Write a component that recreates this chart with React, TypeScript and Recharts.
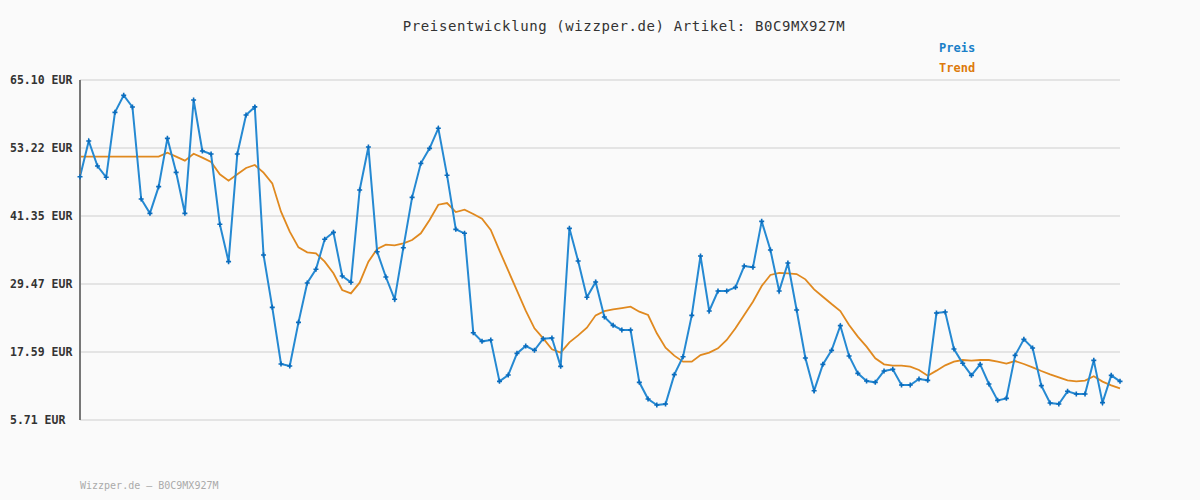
import { LineChart, Line, XAxis, YAxis, CartesianGrid } from "recharts";

const preis = [
  48.21, 54.44, 50.08, 48.1, 59.45, 62.42, 60.38, 44.31, 41.81, 46.47,
  54.91, 48.97, 41.81, 61.61, 52.7, 52.17, 39.89, 33.37, 52.17, 58.99,
  60.4, 34.53, 25.39, 15.49, 15.14, 22.77, 29.64, 32.03, 37.27, 38.49,
  30.86, 29.76, 45.89, 53.4, 35.11, 30.69, 26.79, 35.81, 44.6, 50.54,
  53.16, 56.66, 48.45, 39.01, 38.32, 20.96, 19.45, 19.68, 12.46, 13.57,
  17.35, 18.63, 17.88, 19.92, 20.03, 15.08, 39.19, 33.48, 27.14, 29.81,
  23.7, 22.24, 21.43, 21.43, 12.29, 9.38, 8.33, 8.5, 13.63, 16.77,
  23.99, 34.36, 24.75, 28.24, 28.24, 28.88, 32.61, 32.38, 40.41, 35.4,
  28.24, 33.13, 24.92, 16.54, 10.83, 15.43, 17.88, 22.19, 16.89, 13.86,
  12.52, 12.29, 14.27, 14.56, 11.82, 11.82, 12.87, 12.64, 24.4, 24.57,
  18.11, 15.61, 13.51, 15.43, 12.0, 9.14, 9.49, 17.0, 19.8, 18.29,
  11.71, 8.68, 8.5, 10.72, 10.25, 10.25, 16.13, 8.74, 13.51, 12.46,
];

const trend = [
  51.71, 51.71, 51.71, 51.71, 51.71, 51.71, 51.71, 51.71, 51.71, 51.71,
  52.41, 51.71, 51.01, 52.23, 51.53, 50.78, 48.62, 47.52, 48.62, 49.73,
  50.25, 48.91, 47.05, 42.1, 38.61, 35.87, 35.0, 34.82, 33.37, 31.33,
  28.42, 27.84, 29.7, 33.37, 35.58, 36.34, 36.22, 36.57, 37.15, 38.32,
  40.64, 43.32, 43.61, 42.04, 42.45, 41.69, 40.88, 38.9, 35.29, 31.79,
  28.3, 24.81, 21.72, 19.97, 18.05, 17.47, 19.28, 20.5, 21.84, 23.99,
  24.72, 25.04, 25.27, 25.51, 24.63, 24.05, 20.85, 18.34, 16.95, 15.9,
  15.9, 17.06, 17.47, 18.23, 19.68, 21.72, 24.05, 26.38, 29.12, 31.04,
  31.4, 31.33, 31.21, 30.28, 28.53, 27.25, 25.97, 24.75, 22.3, 20.27,
  18.52, 16.48, 15.43, 15.2, 15.2, 15.03, 14.44, 13.45, 14.33, 15.26,
  15.9, 16.19, 16.07, 16.19, 16.19, 15.9, 15.55, 16.01, 15.49, 14.91,
  14.27, 13.69, 13.16, 12.64, 12.46, 12.58, 13.34, 12.41, 11.77, 11.24,
];

const yTicks = [5.71, 17.59, 29.47, 41.35, 53.22, 65.1];

const data = preis.map((p, i) => ({ idx: i, preis: p, trend: trend[i] }));

const mono = "'DejaVu Sans Mono', monospace";

function PriceDot(props: any) {
  const { cx, cy } = props;
  if (cx == null || cy == null) return null;
  return (
    <path
      d={`M${cx - 2.5},${cy}h5M${cx},${cy - 2.5}v5`}
      stroke="#0a6cbd"
      strokeWidth={1.6}
    />
  );
}

function YTick(props: any) {
  const { y, payload } = props;
  return (
    <text
      x={10}
      y={y}
      dy={4}
      textAnchor="start"
      fontFamily={mono}
      fontSize={11.5}
      fontWeight="bold"
      fill="#333"
    >
      {`${payload.value.toFixed(2)} EUR`}
    </text>
  );
}

export default function App() {
  return (
    <div style={{ position: "relative", width: 1200, height: 500, background: "#fafafa" }}>
      <style>{`body{margin:0}`}</style>
      <div
        style={{
          position: "absolute",
          top: 18,
          left: 0,
          width: 1248,
          textAlign: "center",
          fontFamily: mono,
          fontSize: 14,
          letterSpacing: 0.6,
          color: "#333",
        }}
      >
        Preisentwicklung (wizzper.de) Artikel: B0C9MX927M
      </div>
      <div style={{ position: "absolute", top: 41, left: 939, fontFamily: mono, fontSize: 12, fontWeight: "bold", color: "#1a7fc8" }}>
        Preis
      </div>
      <div style={{ position: "absolute", top: 61, left: 939, fontFamily: mono, fontSize: 12, fontWeight: "bold", color: "#dd7a0c" }}>
        Trend
      </div>
      <div style={{ position: "absolute", top: 480, left: 80, fontFamily: mono, fontSize: 10, color: "#aaa" }}>
        Wizzper.de – B0C9MX927M
      </div>
      <LineChart
        width={1200}
        height={500}
        data={data}
        margin={{ top: 80, right: 80, bottom: 80, left: 10 }}
      >
        <CartesianGrid horizontal vertical={false} stroke="#e4e4e4" strokeWidth={2} />
        <XAxis
          dataKey="idx"
          type="number"
          domain={[0, 119]}
          tick={false}
          tickLine={false}
          height={0}
          axisLine={{ stroke: "#777", strokeWidth: 2 }}
        />
        <YAxis
          domain={[5.71, 65.1]}
          ticks={yTicks}
          width={70}
          tick={<YTick />}
          tickLine={false}
          axisLine={{ stroke: "#777", strokeWidth: 2 }}
          allowDataOverflow
        />
        <Line
          type="linear"
          dataKey="trend"
          stroke="#e0891f"
          strokeWidth={1.8}
          dot={false}
          isAnimationActive={false}
        />
        <Line
          type="linear"
          dataKey="preis"
          stroke="#2589d2"
          strokeWidth={2}
          dot={<PriceDot />}
          activeDot={false}
          isAnimationActive={false}
        />
      </LineChart>
    </div>
  );
}
